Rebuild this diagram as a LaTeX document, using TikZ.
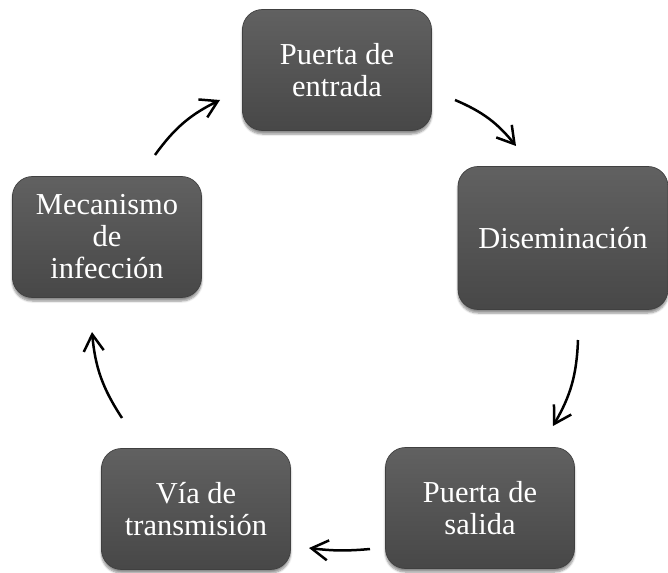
\documentclass[tikz,border=0pt]{standalone}
\usepackage{fontspec}
\setmainfont{Liberation Serif}
\usetikzlibrary{arrows.meta,shadows.blur}
\tikzset{
  etapa/.style={draw=black!75,line width=0.6pt,rounded corners=0.6cm,
    top color=black!62,bottom color=black!72,text=white,align=center,
    minimum width=5.67cm,minimum height=3.63cm,inner sep=2pt,
    font=\fontsize{26}{27.3}\selectfont,
    blur shadow={shadow xshift=0pt,shadow yshift=-3pt,shadow blur steps=6,shadow opacity=45}},
  ciclo/.style={-{Straight Barb[length=5mm,width=6mm]},line width=0.75mm,bend left=14}
}
\begin{document}
\begin{tikzpicture}[x=0.3mm,y=-0.3mm]
  \useasboundingbox (0,0) rectangle (668,573);
  % etapas del ciclo
  \node[etapa] (entrada) at (337,70) {Puerta de\\entrada};
  \node[etapa,minimum width=6.3cm,minimum height=4.29cm] (disem) at (563,238) {Diseminación};
  \node[etapa] (salida) at (480,508) {Puerta de\\salida};
  \node[etapa] (via) at (196,509) {Vía de\\transmisión};
  \node[etapa] (mecan) at (107,237) {Mecanismo\\de\\infección};
  % extremos de las flechas
  \coordinate (f1a) at (155,155); \coordinate (f1b) at (220,100);
  \coordinate (f2a) at (455,100); \coordinate (f2b) at (516,146);
  \coordinate (f3a) at (578,340); \coordinate (f3b) at (553,426);
  \coordinate (f4a) at (370,549); \coordinate (f4b) at (309,548);
  \coordinate (f5a) at (122,418); \coordinate (f5b) at (92,332);
  \draw[ciclo] (f1a) to (f1b);
  \draw[ciclo] (f2a) to (f2b);
  \draw[ciclo] (f3a) to (f3b);
  \draw[ciclo,bend left=6] (f4a) to (f4b);
  \draw[ciclo] (f5a) to (f5b);
\end{tikzpicture}
\end{document}
